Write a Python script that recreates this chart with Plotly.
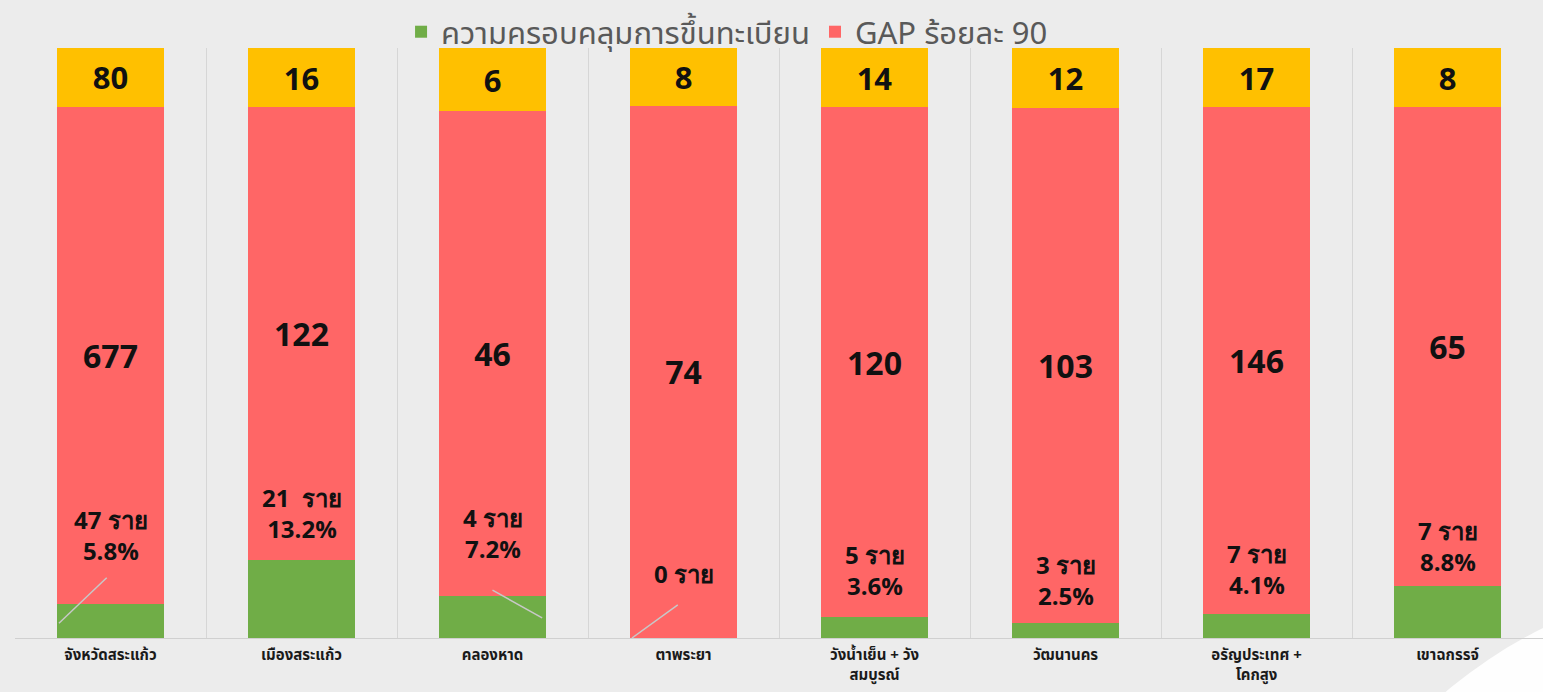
import plotly.graph_objects as go

# ---------------- data ----------------
categories = ["จังหวัดสระแก้ว", "เมืองสระแก้ว", "คลองหาด", "ตาพระยา",
              "วังน้ำเย็น + วัง<br>สมบูรณ์", "วัฒนานคร", "อรัญประเทศ +<br>โคกสูง", "เขาฉกรรจ์"]
registered = [47, 21, 4, 0, 5, 3, 7, 7]          # ความครอบคลุมการขึ้นทะเบียน
gap_90 = [677, 122, 46, 74, 120, 103, 146, 65]   # GAP ร้อยละ 90
remain_10 = [80, 16, 6, 8, 14, 12, 17, 8]        # ส่วนที่เหลือ
pct_labels = ["5.8%", "13.2%", "7.2%", "", "3.6%", "2.5%", "4.1%", "8.8%"]
count_sep = [" ", "  ", " ", " ", " ", " ", " ", " "]

# ---------------- label placement (percent-axis units) ----------------
green_label_y = [17.5, 21.2, 17.8, 11.0, 11.5, 9.8, 11.7, 15.6]
leaders = [  # (category index, dx0, y0, dx1, y1)
    (0, -0.02, 10.2, -0.27, 2.5),
    (2, 0.0, 8.1, 0.26, 3.4),
    (3, -0.03, 5.6, -0.27, 0.0),
]

GREEN = "#70ad47"
RED = "#ff6666"
YELLOW = "#ffc000"
BG = "#ececec"
NUM_FONT = "Open Sans, Lato, Arial, sans-serif"
THAI_FONT = "Tahoma, 'Noto Sans Thai', 'Noto Sans', sans-serif"

fig = go.Figure()
fig.add_trace(go.Bar(
    x=categories, y=registered, name="ความครอบคลุมการขึ้นทะเบียน",
    marker=dict(color=GREEN, line=dict(width=0)), hoverinfo="skip"))
fig.add_trace(go.Bar(
    x=categories, y=gap_90, name="GAP ร้อยละ 90",
    marker=dict(color=RED, line=dict(width=0)),
    text=[str(v) for v in gap_90], textposition="inside",
    insidetextanchor="middle", constraintext="none",
    textfont=dict(family=NUM_FONT, size=32, color="#111111", weight="bold"),
    hoverinfo="skip"))
fig.add_trace(go.Bar(
    x=categories, y=remain_10, name="เหลือ", showlegend=False,
    marker=dict(color=YELLOW, line=dict(width=0)),
    text=[str(v) for v in remain_10], textposition="inside",
    insidetextanchor="middle", constraintext="none",
    textfont=dict(family=NUM_FONT, size=31, color="#111111", weight="bold"),
    hoverinfo="skip"))

annotations = []
for i, cat in enumerate(categories):
    txt = f"{registered[i]}{count_sep[i]}ราย"
    if pct_labels[i]:
        txt += "<br>" + pct_labels[i]
    annotations.append(dict(
        x=i, y=green_label_y[i], xref="x", yref="y", text=txt, showarrow=False,
        font=dict(family=NUM_FONT, size=24, color="#111111", weight="bold"),
        align="center", xanchor="center", yanchor="middle"))

shapes = []
for (ci, dx0, y0, dx1, y1) in leaders:
    shapes.append(dict(type="line", xref="x", yref="y",
                       x0=ci + dx0, y0=y0, x1=ci + dx1, y1=y1,
                       line=dict(color="#c8c8c8", width=1.5), layer="above"))
# white slide decoration in the lower right corner
shapes.append(dict(type="circle", xref="paper", yref="paper",
                   x0=0.828, x1=1.442, y0=-1.495, y1=0.098,
                   fillcolor="rgba(255,255,255,0.92)", line=dict(width=0),
                   layer="below"))

fig.update_layout(
    width=1543, height=692,
    margin=dict(l=15, r=0, t=48, b=54, autoexpand=False),
    paper_bgcolor=BG, plot_bgcolor=BG,
    barmode="stack", barnorm="percent", bargap=0.44,
    showlegend=True,
    legend=dict(orientation="h", x=0.466, xanchor="center", y=1.027, yanchor="middle",
                font=dict(family=THAI_FONT, size=31, color="#595959"),
                bgcolor="rgba(0,0,0,0)", itemsizing="constant",
                traceorder="normal", itemwidth=30),
    xaxis=dict(type="category", tickson="boundaries", showgrid=True,
               gridcolor="#d6d6d6", gridwidth=1, showline=True,
               linecolor="#d0d0d0", linewidth=1, ticks="", zeroline=False,
               tickfont=dict(family=THAI_FONT, size=15, color="#1a1a1a", weight="bold"),
               ticklabelstandoff=3, automargin=False, fixedrange=True),
    yaxis=dict(range=[0, 100], visible=False, showgrid=False, fixedrange=True),
    annotations=annotations, shapes=shapes,
)

fig.write_html("out.html", config={"displayModeBar": False},
               post_script="document.body.style.margin='0';document.body.style.overflow='hidden';")
